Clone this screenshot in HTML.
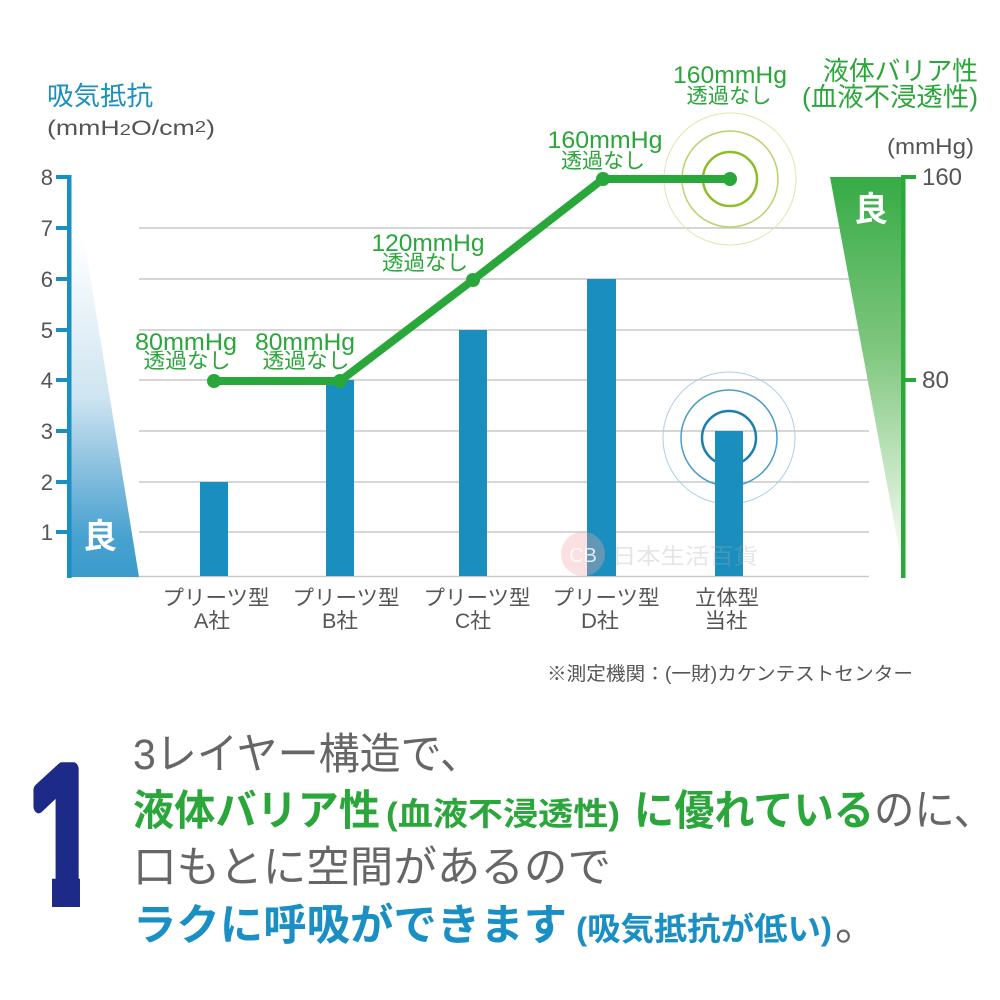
<!DOCTYPE html>
<html><head><meta charset="utf-8">
<style>
html,body{margin:0;padding:0;background:#fff;}
svg{display:block;}
text{font-family:"Liberation Sans","Noto Sans CJK JP",sans-serif;}
</style></head>
<body>
<svg width="1000" height="1000" viewBox="0 0 1000 1000" xmlns="http://www.w3.org/2000/svg">
<defs>
<linearGradient id="gb" x1="0" y1="177" x2="0" y2="576" gradientUnits="userSpaceOnUse">
<stop offset="0" stop-color="#ffffff" stop-opacity="0"/>
<stop offset="0.15" stop-color="#ffffff"/>
<stop offset="0.55" stop-color="#cfe5f1"/>
<stop offset="0.75" stop-color="#82bcdd"/>
<stop offset="0.9" stop-color="#48a2d0"/>
<stop offset="1" stop-color="#3b9bcb"/>
</linearGradient>
<linearGradient id="gg" x1="0" y1="177" x2="0" y2="565" gradientUnits="userSpaceOnUse">
<stop offset="0" stop-color="#36ab46"/>
<stop offset="0.45" stop-color="#80c77f"/>
<stop offset="0.8" stop-color="#cfeacd"/>
<stop offset="1" stop-color="#ffffff"/>
</linearGradient>
<clipPath id="oneclip" clipPathUnits="userSpaceOnUse">
<polygon points="0,700 140,700 140,872 80,872 80,920 52,920 52,872 0,872"/>
</clipPath>
</defs>
<rect width="1000" height="1000" fill="#fff"/>

<!-- titles -->
<text x="47" y="105" font-size="26" fill="#1a8fc0" textLength="106" lengthAdjust="spacingAndGlyphs">吸気抵抗</text>
<text x="47" y="135" font-size="21" fill="#555" textLength="168" lengthAdjust="spacingAndGlyphs">(mmH<tspan font-size="16">2</tspan>O/cm<tspan font-size="16" dy="-3">2</tspan><tspan dy="3">)</tspan></text>

<text x="823" y="80" font-size="26" fill="#2aa63a" textLength="155" lengthAdjust="spacingAndGlyphs">液体バリア性</text>
<text x="802" y="106" font-size="26" fill="#2aa63a" textLength="176" lengthAdjust="spacingAndGlyphs">(血液不浸透性)</text>
<text x="887" y="154" font-size="22" fill="#555" textLength="87" lengthAdjust="spacingAndGlyphs">(mmHg)</text>

<!-- gridlines -->
<g stroke="#c9c9c9" stroke-width="1.5">
<line x1="139" y1="228" x2="869" y2="228"/>
<line x1="139" y1="279" x2="869" y2="279"/>
<line x1="139" y1="330" x2="869" y2="330"/>
<line x1="139" y1="380" x2="869" y2="380"/>
<line x1="139" y1="431" x2="869" y2="431"/>
<line x1="139" y1="482" x2="869" y2="482"/>
<line x1="139" y1="532" x2="869" y2="532"/>
<line x1="71" y1="576.5" x2="869" y2="576.5"/>
</g>

<!-- left gradient triangle -->
<polygon points="71,177 74,177 139,577 71,577" fill="url(#gb)"/>
<text x="100" y="548" font-size="34" font-weight="bold" fill="#fff" text-anchor="middle">良</text>

<!-- left axis -->
<rect x="67" y="175" width="4.5" height="403" fill="#1a90c0"/>
<g fill="#1a90c0">
<rect x="56" y="175" width="13" height="4"/>
<rect x="56" y="226" width="13" height="4"/>
<rect x="56" y="277" width="13" height="4"/>
<rect x="56" y="328" width="13" height="4"/>
<rect x="56" y="378" width="13" height="4"/>
<rect x="56" y="429" width="13" height="4"/>
<rect x="56" y="480" width="13" height="4"/>
<rect x="56" y="530" width="13" height="4"/>
</g>
<g font-size="22" fill="#555" text-anchor="end">
<text x="53" y="185">8</text>
<text x="53" y="236">7</text>
<text x="53" y="287">6</text>
<text x="53" y="338">5</text>
<text x="53" y="388">4</text>
<text x="53" y="439">3</text>
<text x="53" y="490">2</text>
<text x="53" y="540">1</text>
</g>

<!-- right gradient triangle -->
<polygon points="830,177 902,177 902,565" fill="url(#gg)"/>
<text x="871" y="221" font-size="34" font-weight="bold" fill="#fff" text-anchor="middle">良</text>
<!-- right axis -->
<rect x="901" y="175" width="4.5" height="403" fill="#2aa83a"/>
<rect x="901" y="175" width="15" height="4" fill="#2aa83a"/>
<rect x="901" y="378" width="15" height="4" fill="#2aa83a"/>
<text x="922" y="185" font-size="24" fill="#555" textLength="40" lengthAdjust="spacingAndGlyphs">160</text>
<text x="922" y="388" font-size="24" fill="#555" textLength="27" lengthAdjust="spacingAndGlyphs">80</text>

<!-- blue circles -->
<g fill="none">
<circle cx="729" cy="438" r="66" stroke="#a9d0e4" stroke-width="1"/>
<circle cx="729" cy="438" r="48" stroke="#4b9dc6" stroke-width="1.5"/>
<circle cx="729" cy="438" r="27" stroke="#1a7fb0" stroke-width="2.5"/>
</g>

<!-- bars -->
<g fill="#1a8fbf">
<rect x="200" y="482" width="28" height="94"/>
<rect x="326" y="380" width="28" height="196"/>
<rect x="459" y="330" width="28" height="246"/>
<rect x="587" y="279" width="29" height="297"/>
<rect x="715" y="431" width="28" height="145"/>
</g>

<!-- green circles -->
<g fill="none">
<circle cx="730" cy="179" r="66" stroke="#dbe8ad" stroke-width="1"/>
<circle cx="730" cy="179" r="48" stroke="#b8d46c" stroke-width="1.5"/>
<circle cx="730" cy="179" r="27" stroke="#8dbd2b" stroke-width="2.5"/>
</g>

<!-- green line -->
<polyline points="214,381 340,381 473,280 603,179 730,179" fill="none" stroke="#29a73b" stroke-width="8" stroke-linejoin="round" stroke-linecap="round"/>
<g fill="#29a73b">
<circle cx="214" cy="381" r="7"/>
<circle cx="340" cy="381" r="7"/>
<circle cx="473" cy="280" r="7"/>
<circle cx="603" cy="179" r="7"/>
<circle cx="730" cy="179" r="7"/>
</g>

<!-- annotations -->
<g fill="#2aa63a" text-anchor="middle">
<text x="186" y="350" font-size="24" textLength="102" lengthAdjust="spacingAndGlyphs">80mmHg</text>
<text x="187" y="368" font-size="21" textLength="87" lengthAdjust="spacingAndGlyphs">透過なし</text>
<text x="305" y="350" font-size="24" textLength="100" lengthAdjust="spacingAndGlyphs">80mmHg</text>
<text x="306" y="368" font-size="21" textLength="87" lengthAdjust="spacingAndGlyphs">透過なし</text>
<text x="428" y="251" font-size="24" textLength="113" lengthAdjust="spacingAndGlyphs">120mmHg</text>
<text x="425" y="270" font-size="21" textLength="86" lengthAdjust="spacingAndGlyphs">透過なし</text>
<text x="605" y="148" font-size="24" textLength="115" lengthAdjust="spacingAndGlyphs">160mmHg</text>
<text x="603" y="168" font-size="21" textLength="84" lengthAdjust="spacingAndGlyphs">透過なし</text>
<text x="730" y="83" font-size="24" textLength="114" lengthAdjust="spacingAndGlyphs">160mmHg</text>
<text x="729" y="103" font-size="21" textLength="85" lengthAdjust="spacingAndGlyphs">透過なし</text>
</g>

<!-- x labels -->
<g fill="#555" text-anchor="middle" font-size="21">
<text x="216" y="605" textLength="107" lengthAdjust="spacingAndGlyphs">プリーツ型</text>
<text x="212" y="628" textLength="36" lengthAdjust="spacingAndGlyphs">A社</text>
<text x="346" y="605" textLength="107" lengthAdjust="spacingAndGlyphs">プリーツ型</text>
<text x="340" y="628" textLength="36" lengthAdjust="spacingAndGlyphs">B社</text>
<text x="477" y="605" textLength="107" lengthAdjust="spacingAndGlyphs">プリーツ型</text>
<text x="473" y="628" textLength="36" lengthAdjust="spacingAndGlyphs">C社</text>
<text x="606" y="605" textLength="107" lengthAdjust="spacingAndGlyphs">プリーツ型</text>
<text x="600" y="628" textLength="38" lengthAdjust="spacingAndGlyphs">D社</text>
<text x="727" y="605" textLength="64" lengthAdjust="spacingAndGlyphs">立体型</text>
<text x="726" y="628" textLength="43" lengthAdjust="spacingAndGlyphs">当社</text>
</g>

<!-- watermark -->
<circle cx="583" cy="554" r="22" fill="#f2a6a6" opacity="0.35"/>
<text x="583" y="562" font-size="20" fill="#fff" opacity="0.8" text-anchor="middle">CB</text>
<text x="612" y="564" font-size="22" fill="#aaa" opacity="0.3" textLength="146" lengthAdjust="spacingAndGlyphs">日本生活百貨</text>

<!-- footnote -->
<text x="547" y="680" font-size="19" fill="#555" textLength="366" lengthAdjust="spacingAndGlyphs">※測定機関：(一財)カケンテストセンター</text>

<!-- big 1 -->
<g clip-path="url(#oneclip)">
<text x="0" y="0" font-family="Liberation Sans, Arial, sans-serif" font-size="190" font-weight="normal" fill="#1e2a87" stroke="#1e2a87" stroke-width="14" stroke-linejoin="round" transform="translate(25,900) scale(0.75,1)">1</text>
</g>

<!-- bottom text -->
<text x="133" y="769" font-size="43" fill="#666" textLength="348" lengthAdjust="spacingAndGlyphs">3レイヤー構造で、</text>

<text x="133" y="825" font-size="42" font-weight="bold" fill="#2aa63a" textLength="247" lengthAdjust="spacingAndGlyphs">液体バリア性</text>
<text x="386" y="825" font-size="32" font-weight="bold" fill="#2aa63a" textLength="234" lengthAdjust="spacingAndGlyphs">(血液不浸透性)</text>
<text x="634" y="825" font-size="42" font-weight="bold" fill="#2aa63a" textLength="240" lengthAdjust="spacingAndGlyphs">に優れている</text>
<text x="874" y="825" font-size="43" fill="#666" textLength="120" lengthAdjust="spacingAndGlyphs">のに、</text>

<text x="133" y="882" font-size="43" fill="#666" textLength="478" lengthAdjust="spacingAndGlyphs">口もとに空間があるので</text>

<text x="133" y="940" font-size="43" font-weight="bold" fill="#1a8fc4" textLength="434" lengthAdjust="spacingAndGlyphs">ラクに呼吸ができます</text>
<text x="576" y="940" font-size="32" font-weight="bold" fill="#1a8fc4" textLength="256" lengthAdjust="spacingAndGlyphs">(吸気抵抗が低い)</text>
<text x="835" y="940" font-size="43" fill="#666">。</text>
</svg>
</body></html>
